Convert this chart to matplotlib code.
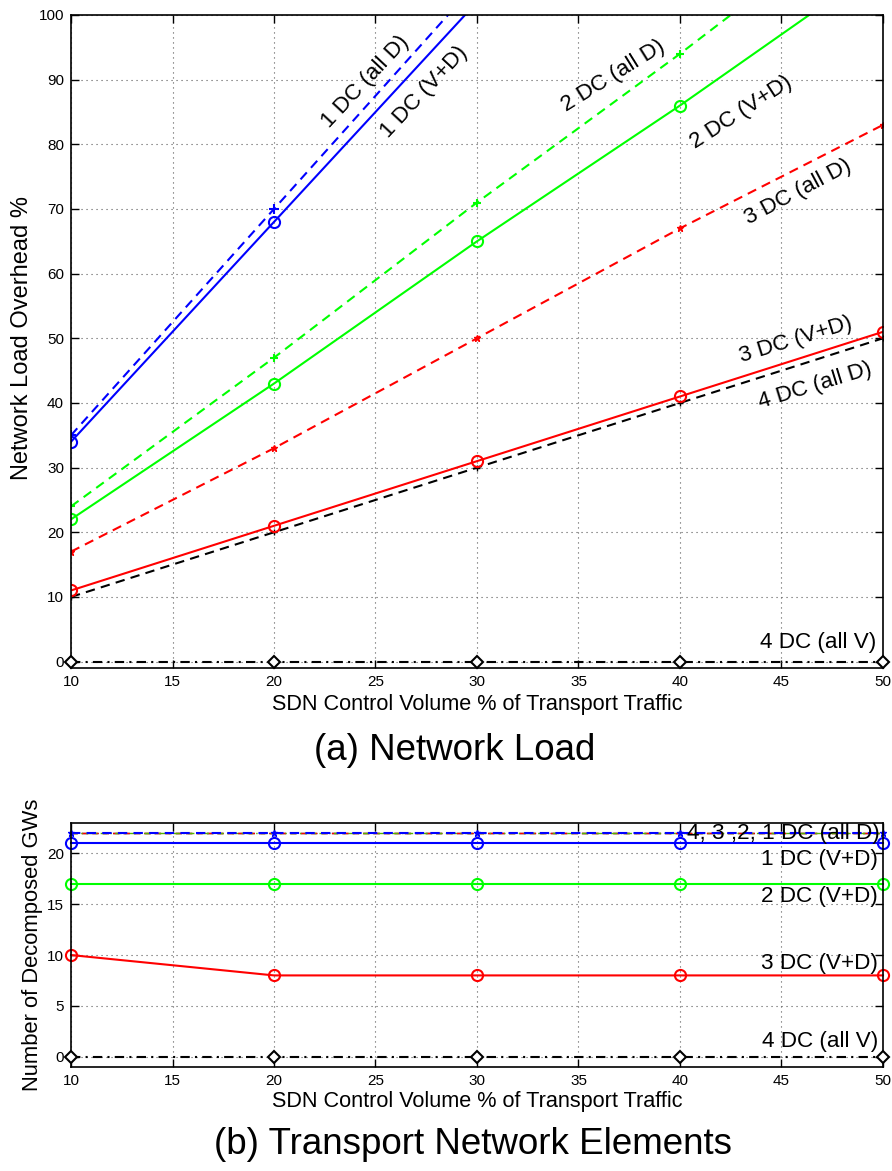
import matplotlib
matplotlib.use("Agg")
import matplotlib.pyplot as plt
from matplotlib.ticker import MultipleLocator

plt.rcParams['font.family'] = ['Liberation Sans', 'DejaVu Sans']

# SDN control volume (% of transport traffic)
volume = [10, 20, 30, 40, 50]

# (a) Network load overhead %
load_1dc_allD = [35, 70, 105, 140, 175]
load_1dc_VD = [34, 68, 102, 136, 170]
load_2dc_allD = [24, 47, 71, 94, 118]
load_2dc_VD = [22, 43, 65, 86, 108]
load_3dc_allD = [17, 33, 50, 67, 83]
load_3dc_VD = [11, 21, 31, 41, 51]
load_4dc_allD = [10, 20, 30, 40, 50]
load_4dc_allV = [0, 0, 0, 0, 0]

# (b) Number of decomposed gateways
gw_4dc_allD = [22, 22, 22, 22, 22]
gw_3dc_allD = [22, 22, 22, 22, 22]
gw_2dc_allD = [22, 22, 22, 22, 22]
gw_1dc_allD = [22, 22, 22, 22, 22]
gw_1dc_VD = [21, 21, 21, 21, 21]
gw_2dc_VD = [17, 17, 17, 17, 17]
gw_3dc_VD = [10, 8, 8, 8, 8]
gw_4dc_allV = [0, 0, 0, 0, 0]

BLUE, GREEN, RED, BLACK = (0, 0, 1), (0, 1, 0), (1, 0, 0), (0, 0, 0)
DASH = (0, (4.5, 3))
DASHDOT = (0, (4.5, 2.5, 1, 2.5))
LW = 1.5
ANN = 16.2
XLABEL = 'SDN Control Volume % of Transport Traffic'

fig = plt.figure(figsize=(8.92, 11.71), dpi=100)
ax1 = fig.add_axes([0.0796, 0.4295, 0.9103, 0.5577])
ax2 = fig.add_axes([0.0796, 0.0888, 0.9103, 0.2086])


def style_axes(ax):
    ax.set_xlim(10, 50)
    ax.xaxis.set_major_locator(MultipleLocator(5))
    ax.grid(True, linestyle=(0, (1, 3.5)), linewidth=0.8, color='0.35')
    ax.tick_params(direction='in', top=True, right=True, length=6,
                   width=1, labelsize=11, pad=5)
    for s in ax.spines.values():
        s.set_linewidth(1.2)


# ---- (a) Network Load ----
ax1.plot(volume, load_1dc_allD, color=BLUE, ls=DASH, lw=LW, marker='+', ms=7, mew=1.5)
ax1.plot(volume, load_1dc_VD, color=BLUE, ls='-', lw=LW, marker='o', ms=8,
         mfc='none', mew=1.5)
ax1.plot(volume, load_2dc_allD, color=GREEN, ls=DASH, lw=LW, marker='+', ms=6, mew=1.5)
ax1.plot(volume, load_2dc_VD, color=GREEN, ls='-', lw=LW, marker='o', ms=8,
         mfc='none', mew=1.5)
ax1.plot(volume, load_3dc_allD, color=RED, ls=DASH, lw=LW, marker='*', ms=5, mew=1)
ax1.plot(volume, load_4dc_allD, color=BLACK, ls=DASH, lw=LW, marker='+', ms=5, mew=1)
ax1.plot(volume, load_3dc_VD, color=RED, ls='-', lw=LW, marker='o', ms=8,
         mfc='none', mew=1.5)
ax1.plot(volume, load_4dc_allV, color=BLACK, ls=DASHDOT, lw=LW, marker='D', ms=6,
         mfc='white', mew=1.5, clip_on=False, zorder=5)

ax1.set_ylim(-1, 100)
ax1.yaxis.set_major_locator(MultipleLocator(10))
style_axes(ax1)
ax1.set_ylabel('Network Load Overhead %', fontsize=17, va='center')
ax1.yaxis.set_label_coords(-0.060, 0.505)
ax1.set_xlabel(XLABEL, fontsize=15.6, va='center')
ax1.xaxis.set_label_coords(0.5, -0.0551)

ax1.text(24.5, 89.6, '1 DC (all D)', rotation=47, fontsize=ANN,
         ha='center', va='center')
ax1.text(27.4, 88.0, '1 DC (V+D)', rotation=47, fontsize=ANN,
         ha='center', va='center')
ax1.text(36.7, 90.6, '2 DC (all D)', rotation=32, fontsize=ANN,
         ha='center', va='center')
ax1.text(43.0, 85.0, '2 DC (V+D)', rotation=33, fontsize=ANN,
         ha='center', va='center')
ax1.text(45.8, 72.6, '3 DC (all D)', rotation=28, fontsize=ANN,
         ha='center', va='center')
ax1.text(45.7, 49.7, '3 DC (V+D)', rotation=17, fontsize=ANN,
         ha='center', va='center')
ax1.text(46.65, 42.7, '4 DC (all D)', rotation=17, fontsize=ANN,
         ha='center', va='center')
ax1.text(46.8, 2.9, '4 DC (all V)', fontsize=ANN, ha='center', va='center')

# ---- (b) Transport Network Elements ----
ax2.plot(volume, gw_4dc_allD, color=BLACK, ls=DASH, lw=1.0)
ax2.plot(volume, gw_3dc_allD, color=RED, ls=DASH, lw=1.0)
ax2.plot(volume, gw_2dc_allD, color=(0.35, 0.7, 0.0), ls=DASHDOT, lw=1.0)
ax2.plot(volume, gw_1dc_allD, color=BLUE, ls=DASH, lw=LW, marker='*', ms=5, mew=1,
         clip_on=False)
ax2.plot(volume, gw_1dc_VD, color=BLUE, ls='-', lw=LW, marker='o', ms=8,
         mfc='none', mew=1.5, clip_on=False)
ax2.plot(volume, gw_2dc_VD, color=GREEN, ls='-', lw=LW, marker='o', ms=8,
         mfc='none', mew=1.5, clip_on=False)
ax2.plot(volume, gw_3dc_VD, color=RED, ls='-', lw=LW, marker='o', ms=8,
         mfc='none', mew=1.5, clip_on=False)
ax2.plot(volume, gw_4dc_allV, color=BLACK, ls=DASHDOT, lw=LW, marker='D', ms=6,
         mfc='white', mew=1.5, clip_on=False, zorder=5)

ax2.set_ylim(-1, 23)
ax2.yaxis.set_major_locator(MultipleLocator(5))
style_axes(ax2)
ax2.set_ylabel('Number of Decomposed GWs', fontsize=15.8, va='center')
ax2.yaxis.set_label_coords(-0.048, 0.5)
ax2.set_xlabel(XLABEL, fontsize=15.6, va='center')
ax2.xaxis.set_label_coords(0.5, -0.143)

ax2.text(49.85, 21.9, '4, 3 ,2, 1 DC (all D)', fontsize=ANN, ha='right', va='center')
ax2.text(49.75, 19.4, '1 DC (V+D)', fontsize=ANN, ha='right', va='center')
ax2.text(49.75, 15.8, '2 DC (V+D)', fontsize=ANN, ha='right', va='center')
ax2.text(49.75, 9.2, '3 DC (V+D)', fontsize=ANN, ha='right', va='center')
ax2.text(49.75, 1.5, '4 DC (all V)', fontsize=ANN, ha='right', va='center')

fig.text(0.51, 1 - 750 / 1171, '(a) Network Load', fontsize=26.5,
         ha='center', va='center')
fig.text(0.53, 1 - 1144 / 1171, '(b) Transport Network Elements', fontsize=26.5,
         ha='center', va='center')

fig.savefig('out.png', dpi=100)
